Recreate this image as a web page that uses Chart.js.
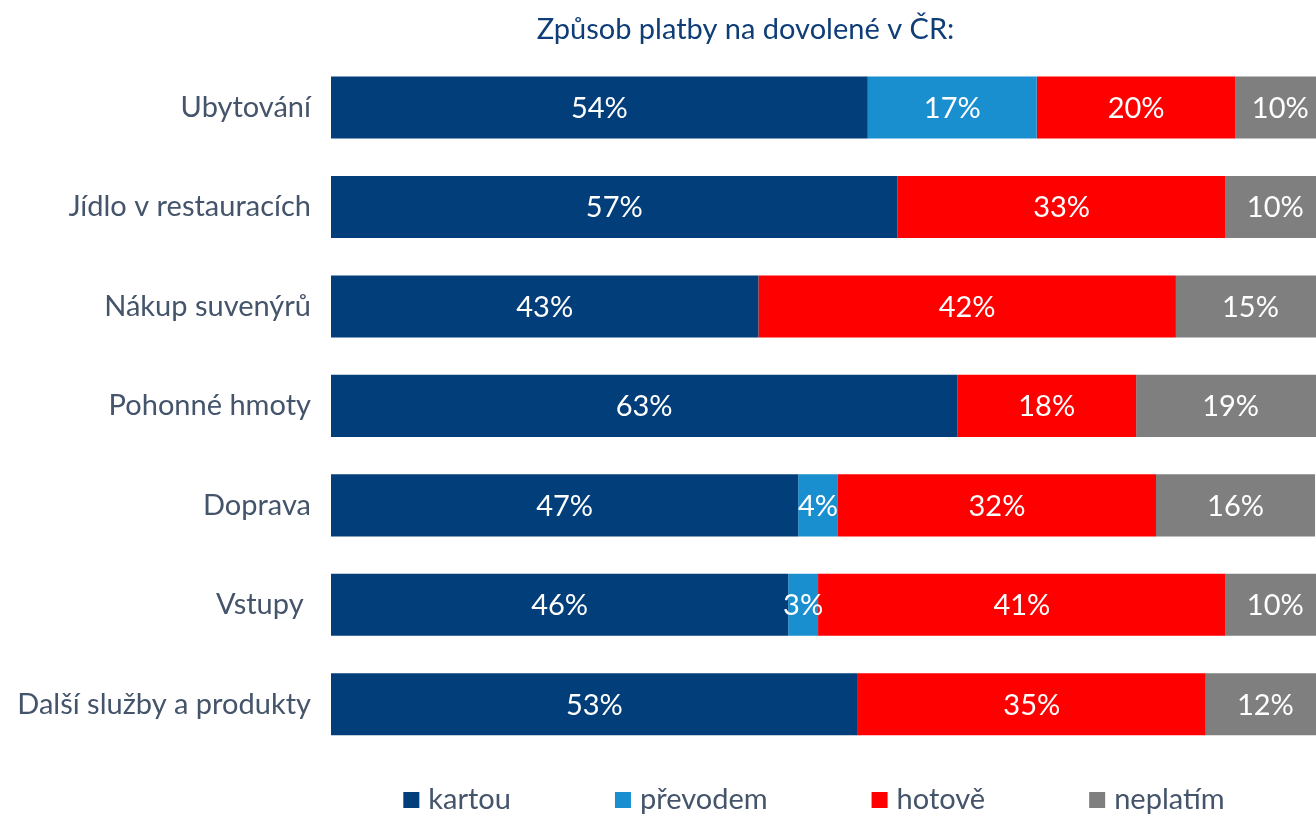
<!DOCTYPE html>
<html lang="cs">
<head>
<meta charset="utf-8">
<title>Způsob platby na dovolené v ČR</title>
<script src="https://cdn.jsdelivr.net/npm/chart.js@4.4.1/dist/chart.umd.min.js"></script>
<style>
  html, body { margin: 0; padding: 0; overflow: hidden; background: #fff; }
  #wrap { width: 1325px; height: 815px; }
</style>
</head>
<body>
<div id="wrap"><canvas id="platbyChart"></canvas></div>
<script>
// kategorie výdajů (shora dolů) a podíly způsobů platby v %
var kategorie = ['Ubytování', 'Jídlo v restauracích', 'Nákup suvenýrů', 'Pohonné hmoty', 'Doprava', 'Vstupy ', 'Další služby a produkty'];
var kartou   = [54, 57, 43, 63, 47, 46, 53];
var prevodem = [17, 0, 0, 0, 4, 3, 0];
var hotove   = [20, 33, 42, 18, 32, 41, 35];
var neplatim = [10, 10, 15, 19, 16, 10, 12];

var PISMO = 'Lato, "Open Sans", sans-serif';
var VELIKOST = 29;
var SEDA_TEXT = '#44546A';

// procenta bíle doprostřed každého úseku
var popiskyPlugin = {
    id: 'popisky',
    afterDatasetsDraw: function(chart) {
        var ctx = chart.ctx;
        var prava = chart.chartArea.right;
        ctx.save();
        ctx.font = VELIKOST + 'px ' + PISMO;
        ctx.fillStyle = '#ffffff';
        ctx.textAlign = 'center';
        ctx.textBaseline = 'middle';
        chart.data.datasets.forEach(function(ds, i) {
            chart.getDatasetMeta(i).data.forEach(function(bar, j) {
                var v = ds.data[j];
                if (!v) return;
                var x = (bar.base + Math.min(bar.x, prava)) / 2;
                ctx.fillText(v + '%', x, bar.y + 1);
            });
        });
        ctx.restore();
    }
};

// legenda pod grafem, čtverečky s textem
var legendaPlugin = {
    id: 'legenda',
    afterDraw: function(chart) {
        var ctx = chart.ctx;
        var box = 16, mezera = 9, rozestup = 104;
        ctx.save();
        ctx.font = VELIKOST + 'px ' + PISMO;
        ctx.textBaseline = 'middle';
        var sirky = chart.data.datasets.map(function(ds) {
            return box + mezera + ctx.measureText(ds.label).width;
        });
        var celkem = sirky.reduce(function(a, b) { return a + b; }, 0) + rozestup * (sirky.length - 1);
        var stred = (chart.chartArea.left + chart.chartArea.right) / 2 - 14;
        var x = stred - celkem / 2;
        var y = chart.height - 15;
        chart.data.datasets.forEach(function(ds, i) {
            ctx.fillStyle = ds.backgroundColor;
            ctx.fillRect(x, y - box / 2, box, box);
            ctx.fillStyle = SEDA_TEXT;
            ctx.fillText(ds.label, x + box + mezera, y);
            x += sirky[i] + rozestup;
        });
        ctx.restore();
    }
};

// nadpis je posunutý doprava od středu plátna
var posunNadpisu = {
    id: 'posunNadpisu',
    afterLayout: function(chart) {
        var t = chart.titleBlock;
        if (!t) return;
        t.left += 83;
        t.right += 83;
    }
};

function sada(nazev, data, barva) {
    return {
        label: nazev,
        data: data,
        backgroundColor: barva,
        borderWidth: 0,
        barPercentage: 0.624,
        categoryPercentage: 1
    };
}

var ctx = document.getElementById('platbyChart').getContext('2d');
new Chart(ctx, {
    type: 'bar',
    data: {
        labels: kategorie,
        datasets: [
            sada('kartou', kartou, '#023E7A'),
            sada('převodem', prevodem, '#1A8FD0'),
            sada('hotově', hotove, '#FF0000'),
            sada('neplatím', neplatim, '#7F7F7F')
        ]
    },
    options: {
        indexAxis: 'y',
        responsive: true,
        maintainAspectRatio: false,
        animation: false,
        layout: { padding: { left: 0, right: 0, top: 0, bottom: 61 } },
        scales: {
            x: { stacked: true, min: 0, max: 100, display: false },
            y: {
                stacked: true,
                grid: { display: false },
                border: { display: false },
                ticks: { color: SEDA_TEXT, font: { family: PISMO, size: VELIKOST }, padding: 12 },
                afterFit: function(scale) { scale.width = 331; }
            }
        },
        plugins: {
            legend: { display: false },
            tooltip: { enabled: false },
            title: {
                display: true,
                text: 'Způsob platby na dovolené v ČR:',
                color: '#0E3D78',
                font: { family: PISMO, size: VELIKOST, weight: 'normal' },
                padding: { top: 12, bottom: 11 }
            }
        }
    },
    plugins: [popiskyPlugin, legendaPlugin, posunNadpisu]
});
</script>
</body>
</html>
